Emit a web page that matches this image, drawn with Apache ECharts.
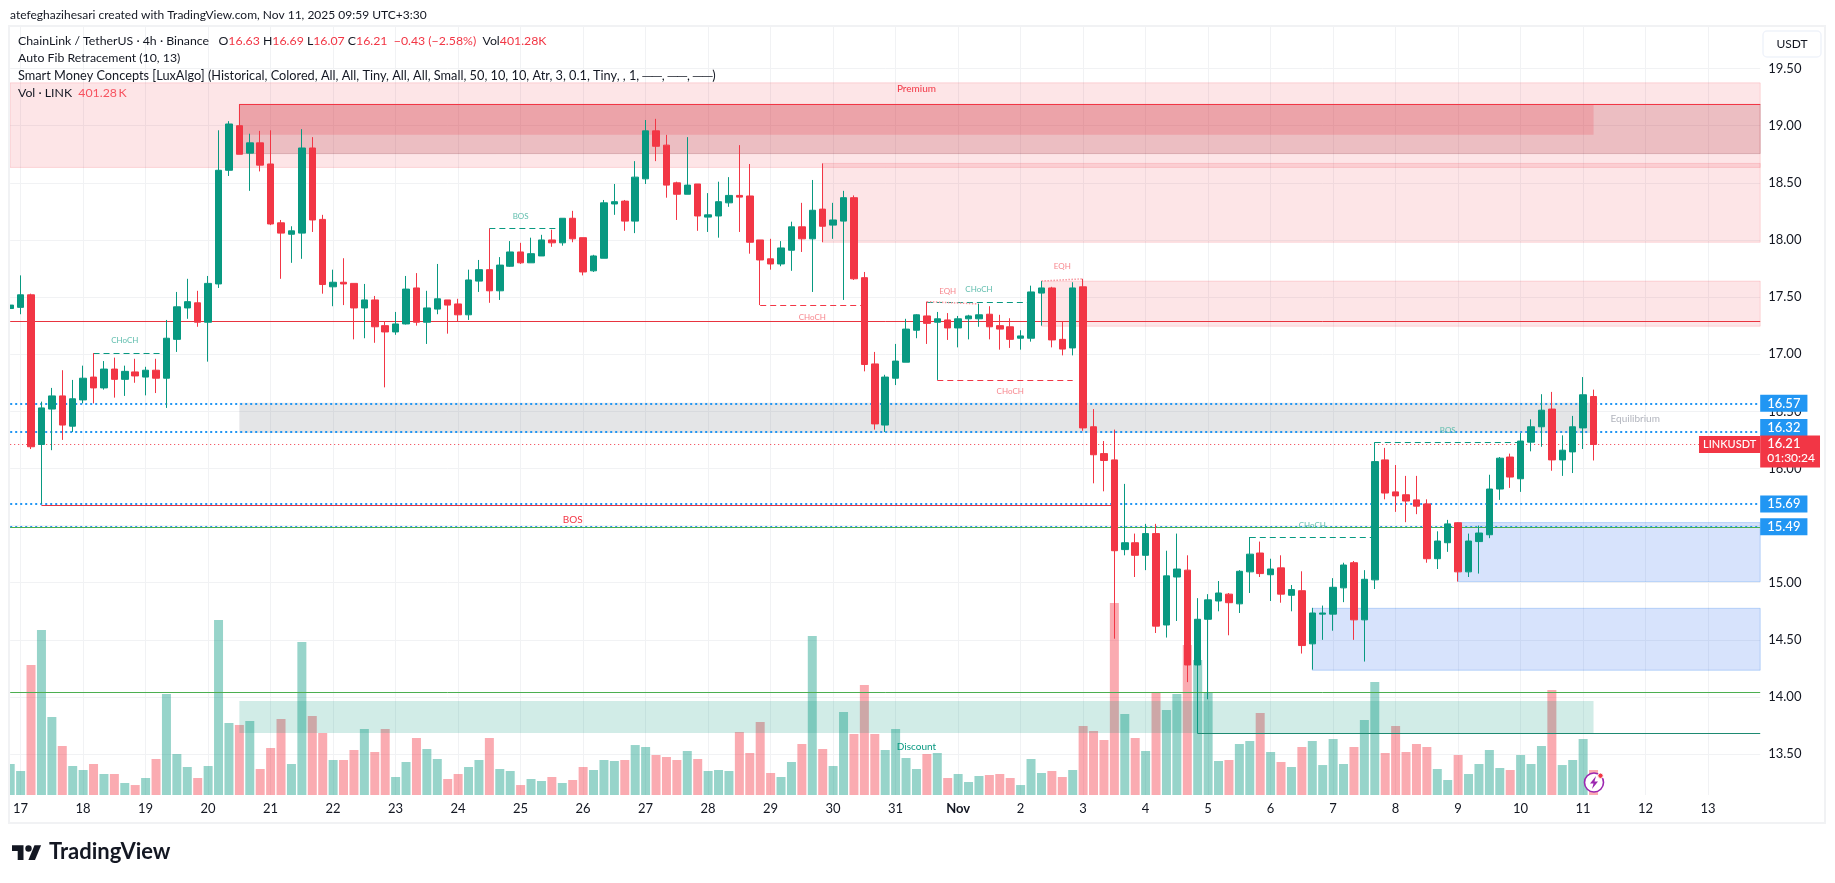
<!DOCTYPE html>
<html><head><meta charset="utf-8">
<style>html,body{margin:0;padding:0;background:#fff}#c{width:1835px;height:883px}</style>
<script src="https://cdn.jsdelivr.net/npm/echarts@6/dist/echarts.min.js"></script>
</head><body><div id="c"></div>
<script>
const dayLabels=['17','18','19','20','21','22','23','24','25','26','27','28','29','30','31','Nov','2','3','4','5','6','7','8','9','10','11','12','13'];
const priceTicks=[13.5,14,14.5,15,15.5,16,16.5,17,17.5,18,18.5,19,19.5];
const opens=[17.40,17.41,17.52,16.21,16.52,16.635,16.37,16.60,16.80,16.705,16.87,16.78,16.845,16.80,16.86,16.79,17.13,17.405,17.45,17.28,17.615,18.61,19.00,18.76,18.85,18.665,18.15,18.05,18.06,18.805,18.18,17.59,17.63,17.62,17.405,17.475,17.25,17.195,17.265,17.58,17.28,17.395,17.475,17.44,17.345,17.64,17.74,17.555,17.77,17.895,17.80,17.86,18.00,17.975,18.19,18.02,17.73,17.84,18.315,18.34,18.165,18.535,18.955,18.83,18.50,18.40,18.49,18.20,18.21,18.325,18.39,18.385,18.00,17.835,17.79,17.91,18.115,18.01,18.27,18.13,18.165,18.37,17.67,16.915,16.38,16.79,16.93,17.21,17.335,17.28,17.30,17.23,17.31,17.31,17.35,17.25,17.24,17.14,17.14,17.535,17.58,17.13,17.055,17.59,16.365,16.13,16.075,15.29,15.35,15.24,15.43,14.63,15.05,15.11,14.28,14.68,14.84,14.90,14.815,15.095,15.26,15.07,15.13,14.89,14.93,14.465,14.725,14.725,14.955,15.175,14.675,15.025,16.075,15.795,15.77,15.725,15.69,15.21,15.35,15.525,15.095,15.36,15.42,15.82,16.10,15.91,16.23,16.365,16.52,16.075,16.145,16.355,16.63];
const highs=[17.48,17.69,17.53,16.585,16.705,16.86,16.775,16.90,17.01,16.94,16.97,16.90,16.96,16.89,16.96,17.30,17.545,17.66,17.555,17.685,18.96,19.04,19.19,18.93,18.955,18.96,18.175,18.12,18.97,18.90,18.22,17.74,17.84,17.62,17.615,17.51,17.29,17.37,17.685,17.71,17.555,17.79,17.475,17.485,17.74,17.825,18.10,17.85,17.99,17.975,18.02,18.045,18.09,18.19,18.255,18.02,17.87,18.35,18.49,18.35,18.69,19.05,19.06,18.92,18.51,18.90,18.49,18.41,18.51,18.55,18.83,18.665,18.00,18.01,17.99,18.16,18.325,18.525,18.67,18.325,18.43,18.39,17.72,17.02,16.82,17.09,17.31,17.35,17.46,17.37,17.36,17.335,17.345,17.44,17.42,17.345,17.315,17.21,17.60,17.64,17.59,17.29,17.63,17.66,16.52,16.24,16.34,15.865,15.43,15.515,15.515,15.28,15.43,15.24,14.865,14.90,15.015,14.91,15.11,15.40,15.36,15.21,15.24,14.98,15.10,14.78,14.80,15.04,15.175,15.19,15.11,16.23,16.18,16.03,15.935,15.935,15.73,15.45,15.55,15.53,15.43,15.50,15.945,16.10,16.13,16.31,16.43,16.65,16.67,16.29,16.46,16.80,16.69];
const lows=[17.10,17.35,16.17,15.69,16.16,16.25,16.32,16.57,16.57,16.69,16.62,16.635,16.75,16.64,16.66,16.53,17.02,17.31,17.24,16.935,17.58,18.56,18.75,18.43,18.60,18.13,17.66,17.80,17.835,18.07,17.53,17.42,17.43,17.13,17.14,17.10,16.71,17.17,17.26,17.25,17.09,17.35,17.18,17.285,17.30,17.545,17.45,17.475,17.765,17.79,17.80,17.86,17.94,17.95,17.98,17.69,17.72,17.84,18.22,18.08,18.06,18.49,18.69,18.37,18.175,18.40,18.08,18.07,18.02,18.29,18.07,17.88,17.43,17.74,17.77,17.73,17.895,17.545,17.98,18.01,17.475,17.65,16.85,16.34,16.32,16.73,16.93,17.14,17.09,16.775,17.125,17.06,17.13,17.24,17.13,17.04,17.055,17.04,17.11,17.25,17.06,16.99,16.99,16.33,15.87,15.80,14.51,15.24,15.05,15.11,14.56,14.52,14.665,14.13,13.68,13.98,14.75,14.54,14.735,14.91,15.05,14.84,14.825,14.75,14.38,14.24,14.50,14.58,14.83,14.50,14.31,14.945,15.73,15.62,15.53,15.60,15.175,15.12,15.27,15.01,15.05,15.08,15.39,15.725,15.83,15.795,16.15,16.19,15.98,15.935,15.96,16.17,16.07];
const closes=[17.43,17.52,16.19,16.53,16.635,16.38,16.61,16.79,16.705,16.87,16.78,16.85,16.81,16.86,16.79,17.14,17.415,17.46,17.28,17.62,18.61,19.015,18.75,18.85,18.655,18.14,18.06,18.08,18.805,18.175,17.61,17.63,17.615,17.405,17.475,17.24,17.195,17.265,17.57,17.28,17.405,17.485,17.43,17.345,17.65,17.74,17.555,17.78,17.895,17.80,17.88,18.00,17.975,18.19,18.01,17.72,17.86,18.325,18.335,18.165,18.55,18.955,18.82,18.48,18.40,18.48,18.21,18.22,18.335,18.39,18.375,17.98,17.825,17.79,17.93,18.115,18.01,18.26,18.12,18.175,18.37,17.66,16.91,16.39,16.80,16.94,17.22,17.345,17.27,17.31,17.23,17.31,17.335,17.345,17.24,17.22,17.13,17.16,17.545,17.58,17.125,17.045,17.58,16.355,16.12,16.07,15.28,15.35,15.24,15.43,14.62,15.06,15.12,14.28,14.68,14.85,14.91,14.825,15.10,15.25,15.08,15.12,14.90,14.94,14.45,14.735,14.735,14.96,15.155,14.675,15.03,16.06,15.785,15.76,15.715,15.67,15.21,15.365,15.515,15.095,15.365,15.435,15.82,16.09,15.925,16.24,16.365,16.51,16.075,16.16,16.365,16.645,16.21];
const volumes=[498,385,2087,2648,1252,786,465,401,498,337,337,193,160,273,578,1621,658,449,273,465,2809,1156,1124,1188,417,754,1220,498,2456,1268,995,562,562,722,1059,690,1059,289,530,915,738,578,257,337,449,562,915,417,385,160,257,225,289,193,241,449,401,562,546,562,802,770,642,610,562,706,578,385,401,385,1011,674,1172,353,289,530,819,2552,738,465,1332,979,1766,979,722,1059,594,417,658,674,273,337,209,305,321,337,273,160,578,353,385,289,401,1107,1027,883,3082,1300,915,706,1653,1364,1621,2408,2167,1648,546,562,819,867,1316,690,530,449,770,867,481,899,498,770,1204,1814,674,1107,690,819,770,417,241,642,337,498,722,433,401,642,498,786,1685,481,562,899,401.28];
// [first bar, last bar, top price, bottom price]
const supplyZones=[[0,168,19.375,18.635],[78,168,18.67,17.98],[99,168,17.64,17.245]];
const orderBlock=[22,168,19.187,18.756];
const premiumBlock=[22,152,19.187,18.92];
const equilibriumZone=[22,152,16.575,16.31];
const discountZone=[22,152,13.965,13.685];
const demandZones=[[139,168,15.526,15.01],[125,168,14.776,14.234]];
const lastBar=168;
const alertLevels=[16.57,16.32,15.69,15.49];
const lastPrice=16.21;
// [from bar, to bar, from price, to price]
const bullishBreaks=[[8,15,17.01,17.01],[46,53,18.10,18.10],[88,98,17.455,17.455],[119,131,15.40,15.40],[131,145,16.23,16.23]];
const bearishBreaks=[[72,82,17.43,17.43],[89,102,16.775,16.775]];
const equalHighs=[[88,93,17.46,17.44],[99,103,17.64,17.66]];
const redLevels=[[0,168,17.285],[3,106,15.678]];
const greenLevels=[[0,168,15.486],[0,168,14.04]];
const tealLevels=[[114,168,13.68]];
// [text, bar, price]
const bullLabels=[['CHoCH',11,17.12],['BOS',49,18.207],['CHoCH',93,17.57],['CHoCH',125,15.505],['BOS',138,16.33]];
const bearLabels=[['CHoCH',77,17.325],['EQH',90,17.55],['CHoCH',96,16.67],['EQH',101,17.77]];
const zoneLabels=[['Premium',87,19.324,'#F23645'],['BOS',54,15.555,'#F23645'],['Discount',87,13.56,'#089981'],['Equilibrium',155.5,16.435,'#B2B5BE']];

const FONT='Lato';
const UP='#089981',DOWN='#F23645';
const categories=[];
for(let i=0;i<=lastBar;i++)categories.push((i-1)%6===0&&i>0?dayLabels[(i-1)/6]:'');
const candleData=opens.map((o,i)=>[o,closes[i],lows[i],highs[i]]);
const volData=volumes.map((v,i)=>({value:v,itemStyle:{color:closes[i]>=opens[i]?'rgba(8,153,129,0.42)':'rgba(242,54,69,0.42)'}}));

const zoneBorder=c=>({color:c,borderColor:c.replace(/[\d.]+\)$/,'0.16)'),borderWidth:1});
const area=(z,style)=>[{coord:[z[0],z[2]],itemStyle:style},{coord:[z[1],z[3]]}];
const areas=[
 ...supplyZones.map(z=>area(z,zoneBorder('rgba(242,54,69,0.13)'))),
 area(orderBlock,{color:'rgba(172,33,49,0.2)',borderColor:'rgba(120,30,40,0.22)',borderWidth:1}),
 area(premiumBlock,{color:'rgba(242,54,69,0.2)'}),
 area(equilibriumZone,{color:'rgba(120,123,134,0.2)'}),
 area(discountZone,{color:'rgba(8,153,129,0.19)'}),
 ...demandZones.map(z=>area(z,{color:'rgba(33,100,240,0.18)',borderColor:'rgba(33,120,240,0.25)',borderWidth:1}))
];
const seg=(a,b,p,q,style)=>[{coord:[a,p],lineStyle:style},{coord:[b,q],lineStyle:style}];
const lines=[
 ...alertLevels.map(p=>seg(0,lastBar,p,p,{color:'#2196F3',width:2,type:[2,3]})),
 seg(0,lastBar,lastPrice,lastPrice,{color:DOWN,width:1,type:[1,3]}),
 ...greenLevels.map(l=>seg(l[0],l[1],l[2],l[2],{color:'#4CAF50',width:1,type:'solid'})),
 ...redLevels.map(l=>seg(l[0],l[1],l[2],l[2],{color:'#E8343F',width:1,type:'solid'})),
 ...tealLevels.map(l=>seg(l[0],l[1],l[2],l[2],{color:'#1E8A72',width:1.2,type:'solid'})),
 seg(orderBlock[0],orderBlock[1],orderBlock[2],orderBlock[2],{color:DOWN,width:1.2,type:'solid'}),
 ...bullishBreaks.map(l=>seg(l[0],l[1],l[2],l[3],{color:UP,width:1,type:[6,4]})),
 ...bearishBreaks.map(l=>seg(l[0],l[1],l[2],l[3],{color:DOWN,width:1,type:[6,4]})),
 ...equalHighs.map(l=>seg(l[0],l[1],l[2],l[3],{color:'#F7979F',width:1.5,type:[1.5,1.5]}))
];
const note=(t,x,p,color,size)=>({coord:[x,p],symbol:'circle',symbolSize:0,label:{show:true,position:'inside',formatter:t,color,fontSize:size,fontFamily:FONT}});
const tag=(text,p,bg,pos,opts)=>({coord:[lastBar,p],symbol:'circle',symbolSize:0,label:Object.assign({show:true,position:pos,distance:0,formatter:text,color:'#fff',backgroundColor:bg,fontFamily:FONT,fontSize:13,fontWeight:500},opts)});
const points=[
 ...bullLabels.map(l=>note(l[0],l[1],l[2],'#5FBDAD',8)),
 ...bearLabels.map(l=>note(l[0],l[1],l[2],'#F7888F',8)),
 ...zoneLabels.map(l=>note(l[0],l[1],l[2],l[3],10)),
 ...alertLevels.map(p=>tag(p.toFixed(2),p,'#2196F3','right',{padding:[2,7,2,7],lineHeight:13,offset:[0,p===16.32?-4.5:0]})),
 tag('LINKUSDT',lastPrice,DOWN,'left',{padding:[2,4],lineHeight:13,fontSize:11}),
 tag('{a|'+lastPrice.toFixed(2)+'}\n{b|01:30:24}',lastPrice,DOWN,'right',{padding:[1,5,2,7],offset:[0,7],rich:{a:{color:'#fff',fontSize:13,lineHeight:15,fontFamily:FONT,fontWeight:500},b:{color:'#fff',fontSize:12,lineHeight:14,fontFamily:FONT}}})
];

const dark='#131722',red='#F23645';
const FS='12.3px '+FONT;
const txt=(x,y,text,extra)=>({type:'text',x,y,z:20,silent:true,style:Object.assign({text,font:FS,fill:dark,verticalAlign:'middle'},extra||{})});
const rich={d:{fill:dark,font:FS},r:{fill:red,font:FS},l:{fill:'#F7525F',font:FS}};
const graphic=[
 {type:'rect',z:15,silent:true,shape:{x:0,y:26,width:9,height:797},style:{fill:'#fff'}},
 {type:'rect',z:16,silent:true,shape:{x:9,y:26,width:1816,height:797},style:{fill:'none',stroke:'#F1F2F4',lineWidth:2}},
 txt(10,15,'atefeghazihesari created with TradingView.com, Nov 11, 2025 09:59 UTC+3:30',{font:'12px '+FONT}),
 txt(18,41.5,'{d|ChainLink / TetherUS · 4h · Binance   O}{r|16.63}{d| H}{r|16.69}{d| L}{r|16.07}{d| C}{r|16.21}{r|  −0.43 (−2.58%)}{d|  Vol}{r|401.28K}',{rich}),
 txt(18,58.5,'Auto Fib Retracement (10, 13)'),
 txt(18,76,'Smart Money Concepts [LuxAlgo] (Historical, Colored, All, All, Tiny, All, All, Small, 50, 10, 10, Atr, 3, 0.1, Tiny, , 1, ──, ──, ──)',{font:'12.75px '+FONT}),
 txt(18,93,'{d|Vol · LINK  }{l|401.28\u2009K}',{rich}),
 {type:'rect',z:20,silent:true,shape:{x:1763,y:31,width:58,height:26,r:4},style:{fill:'#fff',stroke:'#F0F3FA',lineWidth:1.5}},
 txt(1792,44,'USDT',{align:'center',font:'12px '+FONT}),
 {type:'polygon',z:20,silent:true,shape:{points:[[23.5,860],[17.7,860],[17.7,851],[12,851],[12,845.3],[23.5,845.3]]},style:{fill:'#131722'}},
 {type:'polygon',z:20,silent:true,shape:{points:[[35,860],[28.4,860],[34.5,845.3],[41.1,845.3]]},style:{fill:'#131722'}},
 {type:'circle',z:20,silent:true,shape:{cx:28.5,cy:848.5,r:3.2},style:{fill:'#131722'}},
 txt(49,852,'TradingView',{font:'bold 22px '+FONT,fill:'#131722'}),
 {type:'circle',z:20,silent:true,shape:{cx:1594,cy:782.5,r:9.5},style:{fill:'#fff',stroke:'#9C27B0',lineWidth:1.6}},
 {type:'polygon',z:21,silent:true,shape:{points:[[1596,776],[1590,783.5],[1593.5,783.5],[1592,789],[1598,781.5],[1594.5,781.5]]},style:{fill:'#9C27B0'}},
 {type:'circle',z:21,silent:true,shape:{cx:1600.5,cy:775.7,r:2.7},style:{fill:'#F23645',stroke:'#fff',lineWidth:1}}
];
const GRID='#F1F2F4';
const chart=echarts.init(document.getElementById('c'),null,{renderer:'canvas'});
chart.setOption({
 animation:false,backgroundColor:'#fff',
 grid:{left:10.2,right:74.8,top:27,bottom:88,containLabel:false},
 xAxis:{type:'category',data:categories,boundaryGap:false,
  axisLine:{show:false},axisTick:{show:false},
  axisLabel:{interval:(i,v)=>v!=='',margin:7,fontFamily:FONT,fontSize:13,color:dark,
   formatter:v=>v==='Nov'?'{b|Nov}':v,rich:{b:{fontWeight:'bold',fontFamily:FONT,fontSize:13,color:dark}}},
  splitLine:{show:true,interval:(i,v)=>v!=='',lineStyle:{color:GRID,width:1}}},
 yAxis:[
  {type:'value',position:'right',min:13.142,max:19.864,scale:true,
   axisLine:{show:false},axisTick:{show:false,customValues:priceTicks},
   axisLabel:{customValues:priceTicks,margin:8,fontFamily:FONT,fontSize:13,color:dark,formatter:v=>v.toFixed(2)},
   splitLine:{show:true,lineStyle:{color:GRID,width:1}}},
  {type:'value',min:0,max:12326,show:false,splitLine:{show:false}}
 ],
 graphic,
 series:[
  {type:'bar',name:'Vol',yAxisIndex:1,data:volData,barWidth:9,z:2},
  {type:'candlestick',name:'LINKUSDT',yAxisIndex:0,data:candleData,barWidth:7,z:6,
   itemStyle:{color:UP,color0:DOWN,borderColor:UP,borderColor0:DOWN,borderWidth:1},
   markArea:{silent:true,z:3,data:areas},
   markLine:{silent:true,z:5,symbol:'none',label:{show:false},data:lines},
   markPoint:{silent:true,z:7,data:points}}
 ]
});
</script></body></html>
